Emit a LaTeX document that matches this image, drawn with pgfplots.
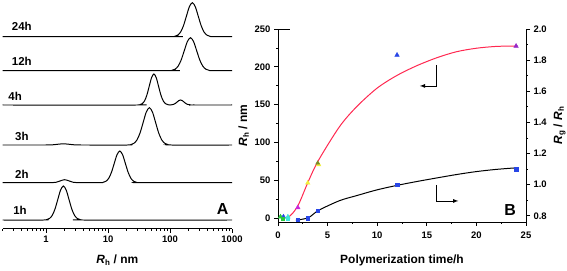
\documentclass[border=0pt]{standalone}
\usepackage{fontspec}
\setmainfont{Liberation Sans}
\usepackage{pgfplots}
\pgfplotsset{compat=1.18}
\definecolor{redc}{RGB}{255,40,80}
\definecolor{olivec}{RGB}{120,140,40}
\definecolor{yelc}{RGB}{240,240,60}
\definecolor{cyanc}{RGB}{60,230,220}
\definecolor{greenc}{RGB}{40,200,60}
\definecolor{bluec}{RGB}{40,70,230}
\definecolor{magc}{RGB}{200,40,220}
\definecolor{purc}{RGB}{150,40,200}
\tikzset{pk/.style={black, line width=1pt, smooth, no markers}}
\begin{document}
\begin{tikzpicture}
\useasboundingbox (0,0) rectangle (567bp,271bp);
\pgfplotsset{
  every axis/.append style={
    scale only axis,
    /pgf/number format/assume math mode=true,
    tick label style={font=\fontsize{9.5}{10}\selectfont\bfseries},
    label style={font=\fontsize{12}{14}\selectfont\bfseries},
    tick align=outside,
    major tick length=4bp,
    minor tick length=2bp,
    axis line style={-, line width=0.9pt},
    every tick/.style={black, line width=0.8pt},
  }
}
% ---------------- Panel A ----------------
\begin{axis}[
  anchor=south west, at={(2.7bp,42.5bp)},
  width=229.3bp, height=228.5bp,
  xmin=-0.699, xmax=3, ymin=0, ymax=228.5,
  axis x line*=bottom, hide y axis, clip=false,
  xtick={0,1,2,3}, xticklabels={1,10,100,1000},
  minor xtick={-0.699,-0.523,-0.398,-0.301,-0.222,-0.155,-0.097,-0.046,
    0.301,0.477,0.602,0.699,0.778,0.845,0.903,0.954,
    1.301,1.477,1.602,1.699,1.778,1.845,1.903,1.954,
    2.301,2.477,2.602,2.699,2.778,2.845,2.903,2.954},
  xlabel={\textit{R}\textsubscript{h} / nm},
  xlabel style={yshift=-5bp},
]
\addplot[pk] coordinates {
(-0.699,8.5) (-0.035,8.5) (0.010,8.88) (0.055,9.99) (0.100,13.10) (0.145,19.54) (0.190,29.12) (0.235,38.5) (0.28,42.5) (0.325,38.5) (0.37,29.12) (0.415,19.54) (0.46,13.10) (0.505,9.99) (0.55,8.88) (0.595,8.5) (3,8.5)};
\addplot[pk] coordinates {
(-0.699,45.8) (0.02,45.8) (0.09,45.83) (0.16,46.21) (0.23,47.62) (0.30,48.8) (0.37,47.62) (0.44,46.21) (0.51,45.83) (0.58,45.8) (0.875,45.8) (0.92,46.15) (0.965,47.19) (1.01,50.09) (1.055,56.09) (1.10,65.03) (1.145,73.78) (1.19,77.5) (1.235,73.78) (1.28,65.03) (1.325,56.09) (1.37,50.09) (1.415,47.19) (1.46,46.15) (1.505,45.8) (3,45.8)};
\addplot[pk] coordinates {
(-0.699,83.5) (-0.08,83.5) (0.01,83.51) (0.10,83.66) (0.19,84.23) (0.28,84.7) (0.37,84.23) (0.46,83.66) (0.55,83.51) (0.64,83.5) (1.317,83.5) (1.367,83.91) (1.417,85.14) (1.467,88.55) (1.517,95.61) (1.567,106.12) (1.617,116.42) (1.667,120.8) (1.717,116.42) (1.767,106.12) (1.817,95.61) (1.867,88.55) (1.917,85.14) (1.967,83.91) (2.017,83.5) (3,83.5)};
\addplot[pk] coordinates {
(-0.699,123.5) (1.4775,123.5) (1.515,123.84) (1.5525,124.86) (1.59,127.69) (1.6275,133.57) (1.665,142.30) (1.7025,150.86) (1.74,154.5) (1.7775,150.86) (1.815,142.30) (1.8525,133.57) (1.89,127.69) (1.9275,124.86) (1.965,123.84) (2.0,123.5) (2.06,124.18) (2.0875,125.12) (2.115,126.53) (2.1425,127.91) (2.17,128.5) (2.1975,127.91) (2.225,126.53) (2.2525,125.12) (2.28,124.18) (2.335,123.56) (2.39,123.5) (3,123.5)};
\addplot[pk] coordinates {
(-0.699,157.8) (1.98,157.8) (2.03,158.17) (2.08,159.25) (2.13,162.26) (2.18,168.52) (2.23,177.81) (2.28,186.92) (2.33,190.8) (2.38,186.92) (2.43,177.81) (2.48,168.52) (2.53,162.26) (2.58,159.25) (2.63,158.17) (2.68,157.8) (3,157.8)};
\addplot[pk] coordinates {
(-0.699,191.8) (2.0275,191.8) (2.075,192.18) (2.1225,193.29) (2.17,196.4) (2.2175,202.84) (2.265,212.42) (2.3125,221.8) (2.36,225.8) (2.4075,221.8) (2.455,212.42) (2.5025,202.84) (2.55,196.4) (2.5975,193.29) (2.645,192.18) (2.6925,191.8) (3,191.8)};
\begin{scope}[every node/.style={anchor=west, inner sep=0pt, font=\fontsize{11.5}{13}\selectfont\bfseries}]
\node at (axis cs:-0.554,202.5) {24h};
\node at (axis cs:-0.554,166.8) {12h};
\node at (axis cs:-0.609,131.8) {4h};
\node at (axis cs:-0.50,91.8) {3h};
\node at (axis cs:-0.50,54.5) {2h};
\node at (axis cs:-0.53,18.5) {1h};
\end{scope}
\node[font=\fontsize{16}{18}\selectfont\bfseries, inner sep=0pt] at (axis cs:2.85,19.5) {A};
\end{axis}
% ---------------- Panel B (left axis) ----------------
\begin{axis}[
  anchor=south west, at={(278bp,49bp)},
  width=248bp, height=193bp,
  xmin=0, xmax=25, ymin=-4.9, ymax=250,
  axis x line*=bottom, axis y line*=left, clip=false,
  xtick={0,5,...,25}, minor x tick num=1,
  ytick={0,50,...,250}, minor y tick num=1,
  xticklabel style={yshift=-2bp},
  xlabel={Polymerization time/h},
  ylabel={\textit{R}\textsubscript{h} / nm},
  xlabel style={yshift=-10bp},
  ylabel style={yshift=-1bp},
]
\addplot[redc, line width=1pt, smooth] coordinates {
(1,1) (1.5,7) (2.1,19) (3.1,50) (4.1,77) (6.2,121) (7.9,147) (9.95,171.5) (11.9,188) (13.9,201) (16,212) (18,220) (20,224.6) (22,227) (24,227.5)};
\addplot[only marks, mark=triangle*, mark size=2.6pt, greenc] coordinates {(0.25,2)};
\addplot[only marks, mark=triangle*, mark size=2.6pt, bluec] coordinates {(0.55,2)};
\addplot[only marks, mark=triangle*, mark size=2.6pt, cyanc] coordinates {(1,2)};
\addplot[only marks, mark=triangle*, mark size=2.6pt, magc] coordinates {(2,14.2)};
\addplot[only marks, mark=triangle*, mark size=2.6pt, yelc] coordinates {(3,46.7)};
\addplot[only marks, mark=triangle*, mark size=2.6pt, yelc] coordinates {(4.1,71)};
\addplot[only marks, mark=triangle*, mark size=2.3pt, olivec] coordinates {(4,73)};
\addplot[only marks, mark=triangle*, mark size=2.6pt, bluec] coordinates {(12,215.6)};
\addplot[only marks, mark=triangle*, mark size=2.6pt, purc] coordinates {(24,227.5)};
\draw[line width=0.9pt] (axis cs:0,250) -- (axis cs:1.2,250);
\draw[line width=0.8pt, -latex] (axis cs:16.0,202.5) -- (axis cs:16.0,174.8) -- (axis cs:14.3,174.8);
\draw[line width=0.8pt, -latex] (axis cs:15.93,44) -- (axis cs:15.93,22.9) -- (axis cs:18.18,22.9);
\node[font=\fontsize{16}{18}\selectfont\bfseries, inner sep=0pt] at (axis cs:23.4,11) {B};
\end{axis}
% ---------------- Panel B (right axis) ----------------
\begin{axis}[
  anchor=south west, at={(278bp,49bp)},
  width=248bp, height=193bp,
  xmin=0, xmax=25, ymin=0.76, ymax=2.0,
  axis x line=none, axis y line*=right, clip=false,
  ytick={0.8,1.0,...,2.0}, minor y tick num=1,
  yticklabel style={/pgf/number format/.cd, fixed, fixed zerofill, precision=1},
  ylabel={\textit{R}\textsubscript{g} / \textit{R}\textsubscript{h}},
]
\addplot[black, line width=1pt, smooth] coordinates {
(1.8,0.772) (2.1,0.774) (3.1,0.789) (4.1,0.835) (6.2,0.897) (7.9,0.929) (9.95,0.966) (11.9,0.994) (13.9,1.019) (16,1.043) (18,1.065) (20,1.084) (22,1.098) (24,1.108)};
\addplot[only marks, mark=square*, mark size=1.7pt, greenc] coordinates {(0.5,0.78)};
\addplot[only marks, mark=square*, mark size=1.7pt, cyanc] coordinates {(1,0.78)};
\addplot[only marks, mark=square*, mark size=1.7pt, bluec] coordinates {(2,0.774) (3,0.785) (4,0.832) (12,1.0) (24,1.10)};
\end{axis}
\end{tikzpicture}
\end{document}
